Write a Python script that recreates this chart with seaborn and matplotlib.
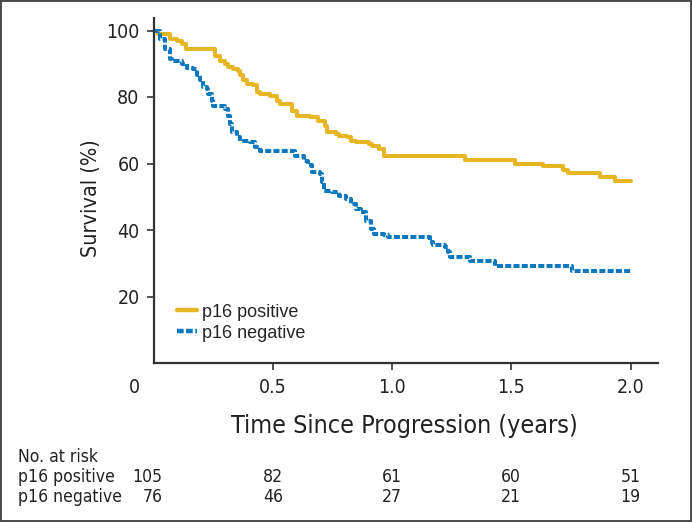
import pandas as pd
import numpy as np
import matplotlib
matplotlib.use('Agg')
import matplotlib.pyplot as plt
import matplotlib.transforms as mtransforms
from matplotlib.patches import Rectangle
import seaborn as sns

# Kaplan-Meier steps (years, % surviving)
pos_time = [0, 0.02, 0.07, 0.10, 0.12, 0.135, 0.258, 0.28, 0.30, 0.313,
            0.333, 0.354, 0.363, 0.375, 0.392, 0.417, 0.433, 0.446, 0.488, 0.517,
            0.529, 0.579, 0.60, 0.654, 0.688, 0.717, 0.729, 0.767, 0.779, 0.813,
            0.829, 0.85, 0.904, 0.917, 0.946, 0.967, 1.305, 1.515, 1.632, 1.716,
            1.737, 1.872, 1.934, 2.0]
pos_surv = [100, 99, 97.4, 96.7, 95.9, 94.4, 92.4, 90.9, 89.8, 88.9,
            88.4, 87.9, 86.5, 85.0, 83.9, 83.6, 81.4, 80.9, 80.4, 78.9,
            77.9, 75.9, 74.4, 73.9, 72.9, 71.4, 69.4, 68.9, 68.4, 67.9,
            66.9, 66.4, 65.9, 65.4, 64.4, 62.4, 61.1, 60.0, 59.1, 58.1,
            57.1, 56.0, 54.8, 54.8]

neg_time = [0, 0.029, 0.05, 0.071, 0.079, 0.121, 0.142, 0.167, 0.183, 0.196,
            0.208, 0.225, 0.229, 0.246, 0.25, 0.30, 0.313, 0.321, 0.329, 0.35,
            0.363, 0.404, 0.425, 0.446, 0.592, 0.633, 0.646, 0.663, 0.70, 0.708,
            0.713, 0.75, 0.779, 0.808, 0.829, 0.85, 0.871, 0.892, 0.913, 0.925,
            0.967, 0.982, 1.158, 1.171, 1.221, 1.234, 1.242, 1.326, 1.431, 1.754,
            2.0]
neg_surv = [100, 97.4, 94.4, 91.4, 90.9, 89.8, 88.8, 88.4, 86.5, 85.0,
            83.0, 82.4, 80.9, 78.9, 77.4, 76.4, 74.4, 71.9, 69.4, 67.9,
            66.9, 66.4, 64.9, 63.9, 62.4, 60.9, 59.4, 57.3, 56.8, 54.3,
            51.8, 51.3, 50.3, 49.3, 47.8, 46.3, 45.3, 42.8, 40.3, 38.8,
            38.5, 37.8, 36.3, 35.6, 34.8, 33.3, 32.0, 30.8, 29.3, 27.7,
            27.7]

groups = ['p16 positive', 'p16 negative']
risk_times = [0, 0.5, 1.0, 1.5, 2.0]
risk_pos = [105, 82, 61, 60, 51]
risk_neg = [76, 46, 27, 21, 19]
x_ticks = [0, 0.5, 1.0, 1.5, 2.0]
x_tick_labels = ['0', '0.5', '1.0', '1.5', '2.0']
y_ticks = [20, 40, 60, 80, 100]

df = pd.concat([
    pd.DataFrame({'time': pos_time, 'survival': pos_surv, 'group': groups[0]}),
    pd.DataFrame({'time': neg_time, 'survival': neg_surv, 'group': groups[1]}),
])

sns.set_style('ticks')
plt.rcParams['font.family'] = ['DejaVu Sans']
plt.rcParams['font.stretch'] = 'condensed'

W, H = 692, 522
fig = plt.figure(figsize=(W / 100, H / 100), dpi=100)
ax = fig.add_axes([153.5 / W, (H - 363) / H, (658 - 153.5) / W, 345 / H])

colors = {'p16 positive': '#E6B625', 'p16 negative': '#0B78BF'}
sns.lineplot(data=df, x='time', y='survival', hue='group', style='group',
             hue_order=groups, style_order=groups, palette=colors,
             dashes={'p16 positive': '', 'p16 negative': (1.5, 0.55)},
             drawstyle='steps-post', linewidth=2.9, estimator=None, ax=ax)

ax.set_xlim(0, (658 - 154) / 238.3)
ax.set_ylim(0, 345 / 3.325)
sns.despine(ax=ax)
for s in ['left', 'bottom']:
    ax.spines[s].set_linewidth(1.6)
    ax.spines[s].set_color('#333333')

ax.set_xticks(x_ticks)
ax.set_xticklabels(x_tick_labels)
ax.set_yticks(y_ticks)
ax.tick_params(axis='both', length=5, width=1.2, color='#333333',
               labelsize=14, labelcolor='#222222', direction='out')
ax.tick_params(axis='y', pad=5)
ax.tick_params(axis='x', pad=6)
# first x tick: no mark, label pulled left of the corner
xt = ax.xaxis.get_major_ticks()[0]
xt.tick1line.set_visible(False)
xt.label1.set_transform(xt.label1.get_transform() +
                        mtransforms.ScaledTranslation(-19 / 100, 0, fig.dpi_scale_trans))

ax.set_xlabel('Time Since Progression (years)', fontsize=18, color='#222222')
ax.xaxis.set_label_coords(0.497, -0.148)
ax.set_ylabel('Survival (%)', fontsize=15.5, color='#222222')
ax.yaxis.set_label_coords(-0.105, 0.478)

leg = ax.get_legend()
handles = leg.legend_handles
labels = [t.get_text() for t in leg.get_texts()]
for h in handles:
    h.set_linewidth(3.2)
ax.legend(handles, labels, loc='upper left', bbox_to_anchor=(0.047, 0.172),
          frameon=False, borderpad=0, borderaxespad=0, handlelength=1.1,
          handletextpad=0.3, labelspacing=0.23,
          prop={'family': ['Liberation Sans', 'DejaVu Sans'], 'stretch': 'normal',
                'size': 13})

# number at risk table
trans = mtransforms.blended_transform_factory(ax.transData, fig.transFigure)
txt = dict(fontsize=12.6, color='#222222', va='baseline')
fig.text(18 / W, 1 - 462 / H, 'No. at risk', **txt)
fig.text(18 / W, 1 - 482 / H, 'p16 positive', **txt)
fig.text(18 / W, 1 - 502 / H, 'p16 negative', **txt)
for t, a, b in zip(risk_times, risk_pos, risk_neg):
    if t == 0:
        x, ha = t + 9 / 238.3, 'right'
    else:
        x, ha = t, 'center'
    fig.text(x, 1 - 482 / H, str(a), ha=ha, transform=trans, **txt)
    fig.text(x, 1 - 502 / H, str(b), ha=ha, transform=trans, **txt)

fig.add_artist(Rectangle((0, 0), 1, 1, transform=fig.transFigure, fill=False,
                         edgecolor='#4a4a4a', linewidth=2.8))

fig.savefig('out.png', dpi=100)
